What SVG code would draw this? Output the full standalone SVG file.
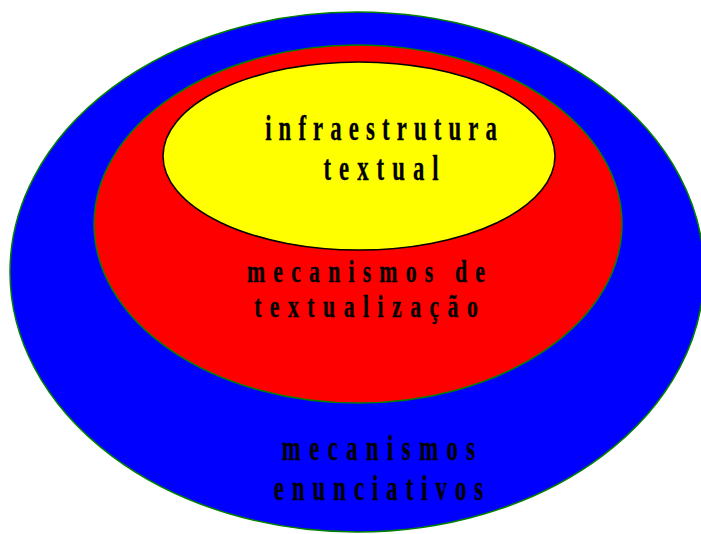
<svg xmlns="http://www.w3.org/2000/svg" width="701" height="534" viewBox="0 0 701 534">
<style>
.lbl{font-family:"Liberation Serif","Times New Roman",serif;font-size:35.5px;font-weight:bold;fill:#000;stroke:#000;stroke-width:0.3;text-anchor:middle}
.mid{font-size:32px}
</style>
<rect width="701" height="534" fill="#fff"/>
<g id="outer">
<ellipse cx="357" cy="272" rx="347" ry="260" fill="#0000ff" stroke="#008000" stroke-width="1.5"/>
</g>
<g id="middle">
<ellipse cx="358" cy="224" rx="264" ry="179" fill="#ff0000" stroke="#008000" stroke-width="1.5"/>
</g>
<g id="inner">
<ellipse cx="359" cy="156" rx="196" ry="94" fill="#ffff00" stroke="#000" stroke-width="1.5"/>
</g>
<g id="labels-inner" transform="translate(381,0) scale(0.64,1)">
<text class="lbl" x="0" y="140" textLength="362" lengthAdjust="spacing">infraestrutura</text>
<text class="lbl" x="0" y="180" textLength="180" lengthAdjust="spacing">textual</text>
</g>
<g id="labels-middle" transform="translate(366,0) scale(0.68,1)">
<text class="lbl mid" x="0" y="282" textLength="350" lengthAdjust="spacing">mecanismos de</text>
<text class="lbl mid" x="0" y="317.5" textLength="329" lengthAdjust="spacing">textualização</text>
</g>
<g id="labels-outer" transform="translate(378.5,0) scale(0.64,1)">
<text class="lbl" x="0" y="460" textLength="302" lengthAdjust="spacing">mecanismos</text>
<text class="lbl" x="0" y="500" textLength="327" lengthAdjust="spacing">enunciativos</text>
</g>
</svg>
